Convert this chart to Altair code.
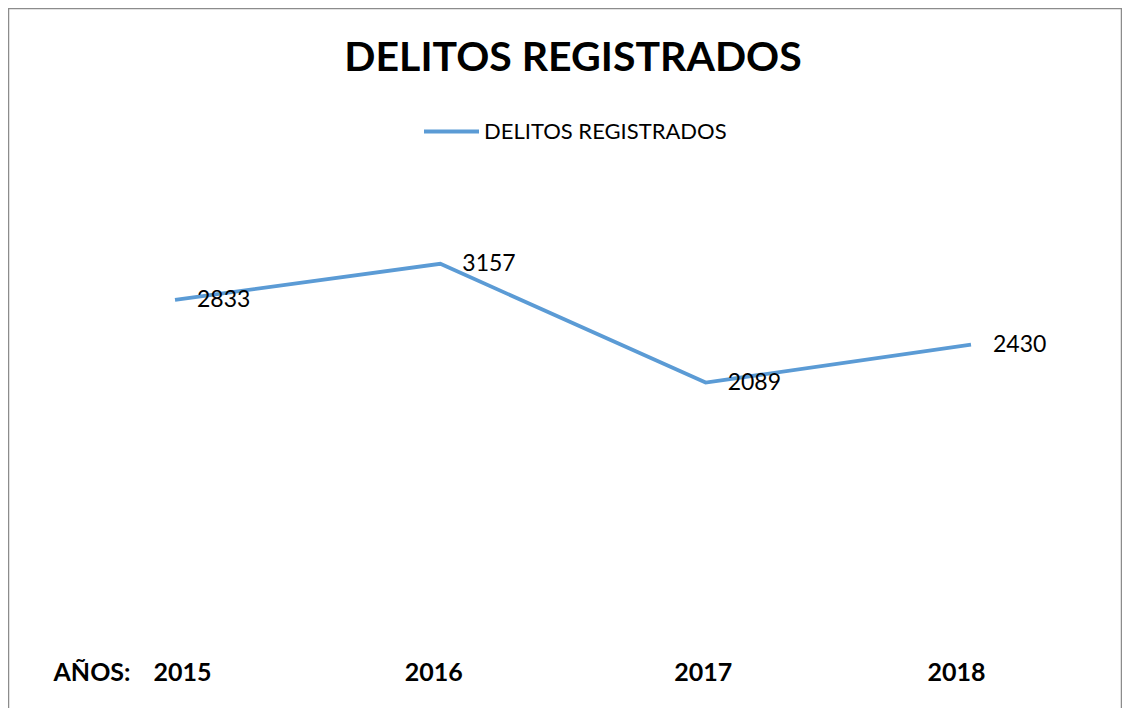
import altair as alt
import pandas as pd

# ---- data ----
years = ["2015", "2016", "2017", "2018"]
delitos = [2833, 3157, 2089, 2430]
serie = "DELITOS REGISTRADOS"
titulo = "DELITOS REGISTRADOS"
eje_titulo = "AÑOS:"

df = pd.DataFrame({"anio": years, "delitos": delitos, "serie": [serie] * len(years)})

W, H = 1114, 700
FONT = "Lato"
BLUE = "#5B9BD5"
BORDER = "#8c8c8c"

# small per-label nudges so the year labels sit as in the reference
label_shift = (
    "datum.value == '2015' ? 7 : datum.value == '2016' ? -7 : "
    "datum.value == '2017' ? -3 : -15"
)

x = alt.X(
    "anio:N",
    sort=years,
    scale=alt.Scale(type="point", range=[167, 963], padding=0),
    axis=alt.Axis(
        title=eje_titulo,
        orient="bottom",
        offset=-48,
        domain=False,
        ticks=False,
        grid=False,
        labelAngle=0,
        labelFont=FONT,
        labelFontSize=25,
        labelFontWeight="bold",
        labelColor="black",
        labelPadding=0,
        labelOffset={"expr": label_shift},
        titleFont=FONT,
        titleFontSize=25,
        titleFontWeight="bold",
        titleColor="black",
        titleX=45,
        titleY=0,
        titleAlign="left",
        titleBaseline="top",
    ),
)
y = alt.Y("delitos:Q", scale=alt.Scale(domain=[0, 4000], range=[607, 162]), axis=None)

base = alt.Chart(df)

line = base.mark_line(strokeWidth=3.8).encode(
    x=x,
    y=y,
    color=alt.Color(
        "serie:N",
        scale=alt.Scale(range=[BLUE]),
        legend=alt.Legend(
            orient="none",
            legendX=414,
            legendY=94,
            title=None,
            symbolType="stroke",
            symbolSize=3025,
            symbolStrokeWidth=4,
            labelFont=FONT,
            labelFontSize=22,
            labelColor="black",
            labelOffset=3,
            labelLimit=0,
            padding=0,
        ),
    ),
)

labels = base.mark_text(
    align="left", baseline="middle", dx=22, font=FONT, fontSize=23, color="black"
).encode(x=x, y=y, text="delitos:Q")

one = pd.DataFrame({"k": [0]})
left = alt.Chart(one).mark_rule(color=BORDER, strokeWidth=1.5).encode(
    x=alt.value(0.5), y=alt.value(0), y2=alt.value(H)
)
top = alt.Chart(one).mark_rule(color=BORDER, strokeWidth=1.5).encode(
    x=alt.value(0), x2=alt.value(W), y=alt.value(0.5)
)
right = alt.Chart(one).mark_rule(color=BORDER, strokeWidth=1.5).encode(
    x=alt.value(W - 0.5), y=alt.value(0), y2=alt.value(H)
)

chart = (
    alt.layer(left, top, right, line, labels)
    .properties(
        width=W,
        height=H,
        padding=0,
        autosize=alt.AutoSizeParams(type="none"),
        background="white",
        title=alt.Title(
            titulo,
            font=FONT,
            fontSize=41,
            fontWeight="bold",
            color="black",
            anchor="middle",
            baseline="alphabetic",
            offset=0,
            dx=8,
            dy=105,
        ),
    )
    .configure_view(stroke=None)
)

chart.save("out.html", embed_options={"renderer": "svg", "actions": False})
